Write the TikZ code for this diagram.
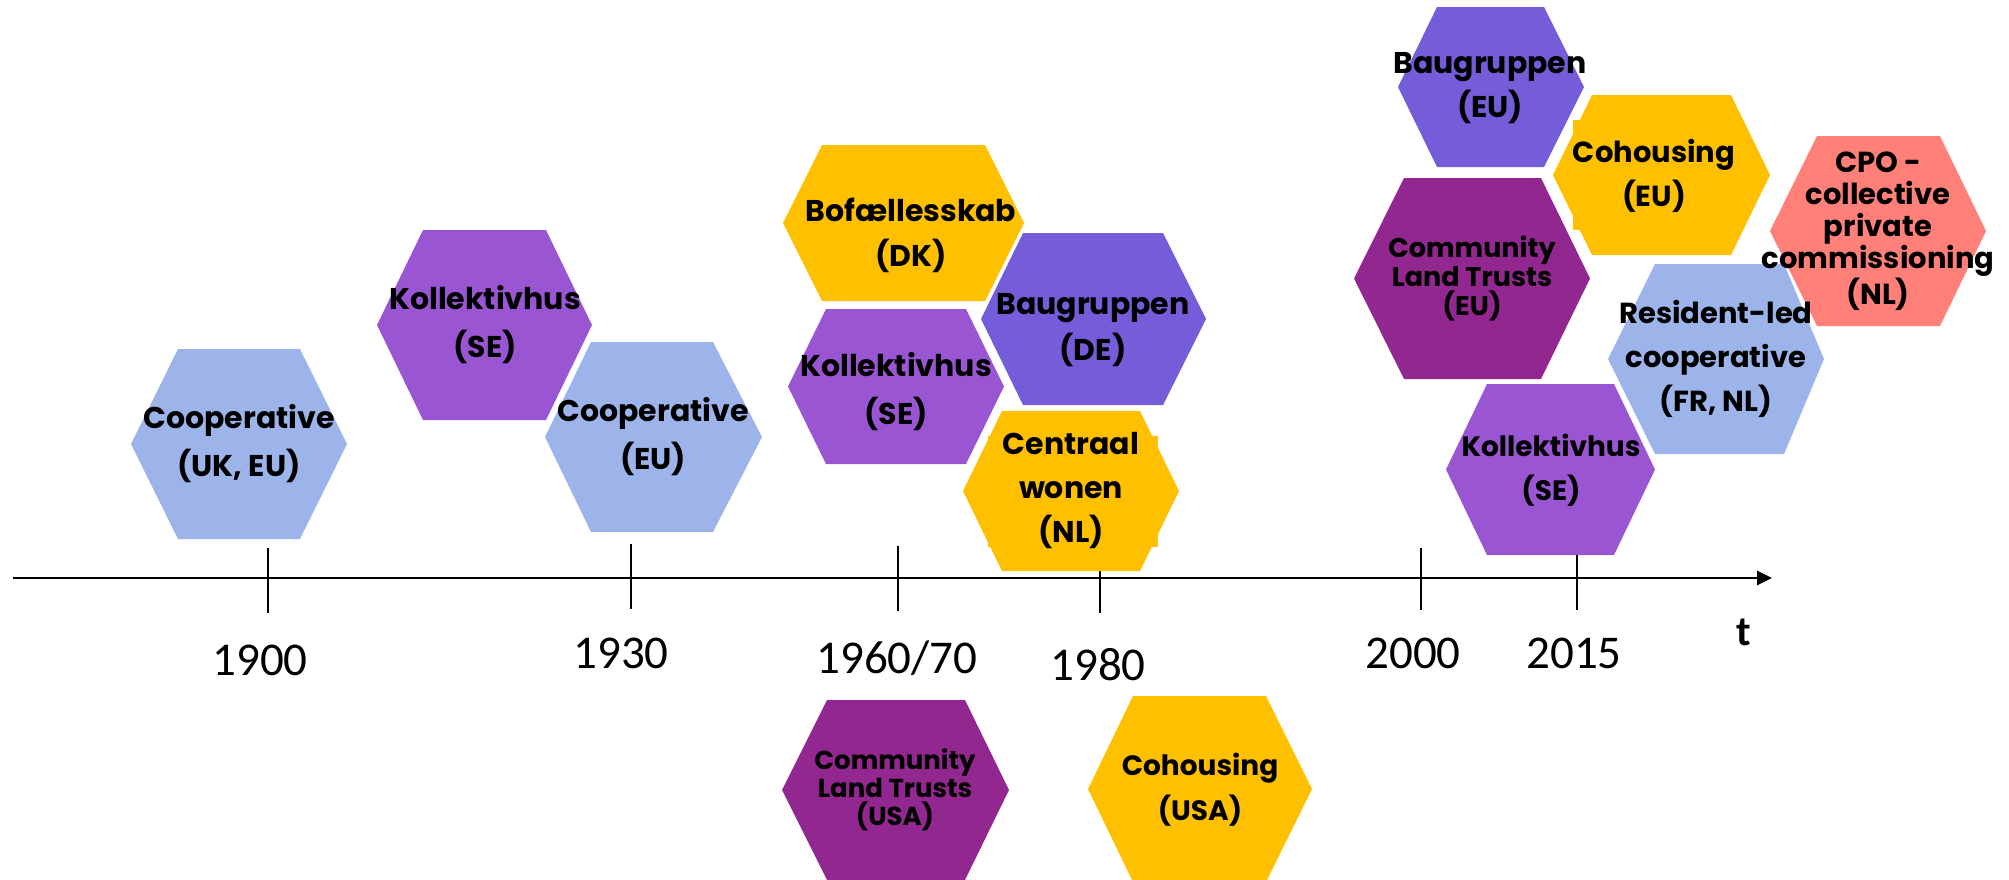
\documentclass[tikz,border=0pt]{standalone}
\usepackage{fontspec}
\setmainfont{Poppins}
\newfontfamily\yearfont{Carlito}
\usetikzlibrary{arrows.meta}

\definecolor{coopblue}{HTML}{9CB4E9}
\definecolor{kollpurple}{HTML}{9A56D2}
\definecolor{baugviolet}{HTML}{755CD8}
\definecolor{hexgold}{HTML}{FFC000}
\definecolor{cltplum}{HTML}{92278F}
\definecolor{cposalmon}{HTML}{FF7F79}

% filled hexagon: #1 colour, #2 left x, #3 top-left x, #4 top-right x, #5 right x, #6 top y, #7 bottom y
\newcommand\hexfill[7]{%
  \fill[#1] (#2,{(#6+#7)/2}) -- (#3,#6) -- (#4,#6) -- (#5,{(#6+#7)/2})
    -- (#4,#7) -- (#3,#7) -- cycle;}

\tikzset{
  txt/.style n args={2}{align=center, inner sep=0pt,
    font=\bfseries\fontsize{#1}{#2}\selectfont},
  year/.style={inner sep=0pt, font=\yearfont\fontsize{23.5}{28}\selectfont},
  axisline/.style={line width=1.4pt},
  tickline/.style={line width=1.2pt},
}

\begin{document}
\begin{tikzpicture}[x=0.5pt,y=-0.5pt]
\useasboundingbox (0,0) rectangle (2009,879);
\clip (0,0) rectangle (2009,879);

% time axis and ticks
\coordinate (axL) at (13,578);
\coordinate (axR) at (1772,578);
\foreach \nm/\x/\ya/\yb in {a/268/548/613, b/631/544/609, c/898/546/611,
                            d/1100/548/613, e/1421/548/610, f/1577/548/610}{
  \coordinate (tk\nm top) at (\x,\ya);
  \coordinate (tk\nm bot) at (\x,\yb);
  \draw[tickline] (tk\nm top) -- (tk\nm bot);
}
\draw[axisline, -{Triangle[length=7.5pt,width=7pt]}] (axL) -- (axR);

% year labels
\node[year] (y1900) at (260,660) {1900};
\node[year] (y1930) at (621,653) {1930};
\node[year] (y1960) at (897,658) {1960/70};
\node[year] (y1980) at (1098,665) {1980};
\node[year] (y2000) at (1413,653) {2000};
\node[year] (y2015) at (1574,653) {2015};
\node[inner sep=0pt, font=\yearfont\bfseries\fontsize{21}{24}\selectfont] (tlab) at (1744,632) {t};

% hexagons
\hexfill{coopblue}{131}{178}{300}{347}{349}{539}
\hexfill{kollpurple}{377}{423}{546}{592}{230}{420}
\hexfill{coopblue}{545}{591}{713}{762}{342}{532}
\hexfill{hexgold}{783}{822}{985}{1024}{145}{301}
\hexfill{kollpurple}{788}{826}{966}{1004}{309}{464}
\hexfill{baugviolet}{981}{1023}{1163}{1206}{233}{405}
\hexfill{hexgold}{963}{1002}{1140}{1179}{411}{571}
\fill[hexgold] (988,436) rectangle (1158,547);
\hexfill{cltplum}{782}{827}{965}{1009}{700}{880}
\hexfill{hexgold}{1088}{1133}{1266}{1312}{696}{882}
\hexfill{baugviolet}{1398}{1437}{1544}{1584}{7}{167}
\hexfill{hexgold}{1553}{1592}{1731}{1770}{95}{255}
\fill[hexgold] (1573,120) rectangle (1735,230);
\hexfill{cltplum}{1354}{1404}{1541}{1590}{178}{379}
\hexfill{cposalmon}{1770}{1817}{1940}{1986}{136}{326}
\hexfill{coopblue}{1608}{1655}{1784}{1824}{264}{454}
\hexfill{kollpurple}{1446}{1487}{1614}{1655}{384}{555}

% hexagon labels
\node[txt={15}{24}] (coopUK) at (239,444) {Cooperative\\(UK, EU)};
\node[txt={15}{24}] (kollA) at (485,325) {Kollektivhus\\(SE)};
\node[txt={15}{24}] (coopEU) at (653,437) {Cooperative\\(EU)};
\node[txt={15}{22.5}] (bof) at (911,235) {Bofællesskab\\(DK)};
\node[txt={15}{24}] (kollB) at (896,392) {Kollektivhus\\(SE)};
\node[txt={15}{23}] (baugDE) at (1093,330) {Baugruppen\\(DE)};
\node[txt={15}{22}] (centraal) at (1071,491) {Centraal\\wonen\\(NL)};
\node[txt={13}{14}] (cltUSA) at (895,790) {Community\\Land Trusts\\(USA)};
\node[txt={14}{22.5}] (cohoUSA) at (1200,790) {Cohousing\\(USA)};
\node[txt={15}{22}] (baugEU) at (1490,88) {Baugruppen\\(EU)};
\node[txt={14.5}{22}] (cohoEU) at (1654,176) {Cohousing\\(EU)};
\node[txt={13.5}{14.5}] (cltEU) at (1472,279) {Community\\Land Trusts\\(EU)};
\node[txt={14.5}{16}] (cpo) at (1878,231) {CPO -\\collective\\private\\commissioning\\(NL)};
\node[txt={14.5}{22}] (resident) at (1716,359) {Resident-led\\cooperative\\(FR, NL)};
\node[txt={14}{22}] (kollC) at (1551,470) {Kollektivhus\\(SE)};
\end{tikzpicture}
\end{document}
